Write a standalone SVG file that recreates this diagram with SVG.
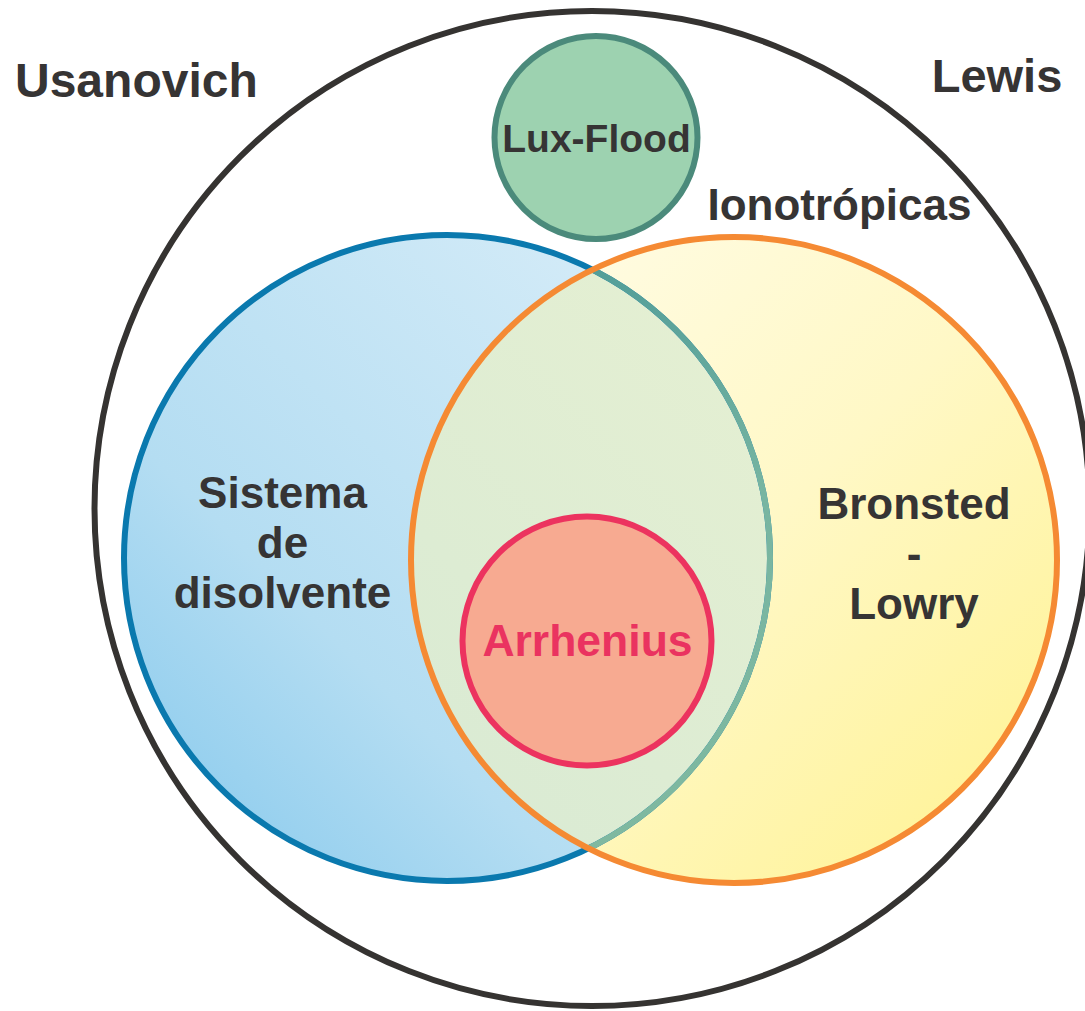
<svg xmlns="http://www.w3.org/2000/svg" width="1085" height="1011" viewBox="0 0 1085 1011">
<style>
.lbl{font-family:"Liberation Sans",Arial,Helvetica,sans-serif;font-weight:bold;fill:#363434;text-anchor:middle}
.lft{text-anchor:start}
.ring{fill:none;stroke-width:6}
</style>
<defs>
<linearGradient id="gBlue" x1="0" y1="1" x2="1" y2="0">
<stop offset="0" stop-color="#82c7ec"/>
<stop offset="0.35" stop-color="#b4ddf2"/>
<stop offset="1" stop-color="#dceff9"/>
</linearGradient>
<linearGradient id="gYellow" x1="0" y1="0" x2="1" y2="1">
<stop offset="0" stop-color="#fffdec"/>
<stop offset="0.5" stop-color="#fff8c6"/>
<stop offset="1" stop-color="#fff28e"/>
</linearGradient>
<linearGradient id="gMix" x1="0" y1="1" x2="1" y2="0">
<stop offset="0" stop-color="#d4e8d4"/>
<stop offset="1" stop-color="#e6f0d2"/>
</linearGradient>
<linearGradient id="gTeal" x1="0" y1="0" x2="0" y2="1">
<stop offset="0" stop-color="#4e9b97"/>
<stop offset="0.4" stop-color="#78b5a1"/>
<stop offset="1" stop-color="#80b9a0"/>
</linearGradient>
<clipPath id="cOrange"><circle cx="734" cy="560" r="323"/></clipPath>
</defs>
<rect width="1085" height="1011" fill="#ffffff"/>
<g id="sistema-disolvente">
<circle cx="447" cy="558" r="323" fill="url(#gBlue)"/>
</g>
<g id="bronsted-lowry">
<circle cx="734" cy="560" r="323" fill="url(#gYellow)"/>
<g clip-path="url(#cOrange)">
<circle cx="447" cy="558" r="323" fill="url(#gMix)"/>
</g>
<circle cx="447" cy="558" r="323" class="ring" stroke="#0a79ae"/>
<g clip-path="url(#cOrange)">
<circle cx="447" cy="558" r="323" class="ring" stroke="url(#gTeal)"/>
</g>
<circle cx="734" cy="560" r="323" class="ring" stroke="#f58a33"/>
</g>
<g id="arrhenius">
<circle cx="587" cy="641" r="124.5" fill="#f7aa91" stroke="#ec335f" stroke-width="6"/>
</g>
<g id="lux-flood">
<circle cx="596" cy="137.5" r="101.5" fill="#9dd2b0" stroke="#4b8a7b" stroke-width="6"/>
</g>
<g id="lewis">
<circle cx="592" cy="508.5" r="497.5" class="ring" stroke="#353331"/>
</g>
<g id="connectors"/>
<g id="labels">
<text class="lbl lft" x="15" y="97" font-size="48">Usanovich</text>
<text class="lbl" x="997" y="92" font-size="47">Lewis</text>
<text class="lbl" x="839.5" y="220" font-size="44">Ionotrópicas</text>
<text class="lbl" x="596.5" y="152" font-size="39">Lux-Flood</text>
<text class="lbl" x="282.5" y="508" font-size="44">Sistema</text>
<text class="lbl" x="282.5" y="558" font-size="44">de</text>
<text class="lbl" x="282.5" y="608" font-size="44">disolvente</text>
<text class="lbl" x="587.5" y="656" font-size="44.5" style="fill:#ea3360">Arrhenius</text>
<text class="lbl" x="914" y="519" font-size="44">Bronsted</text>
<text class="lbl" x="914" y="569" font-size="44">-</text>
<text class="lbl" x="914" y="619" font-size="44">Lowry</text>
</g>
</svg>
